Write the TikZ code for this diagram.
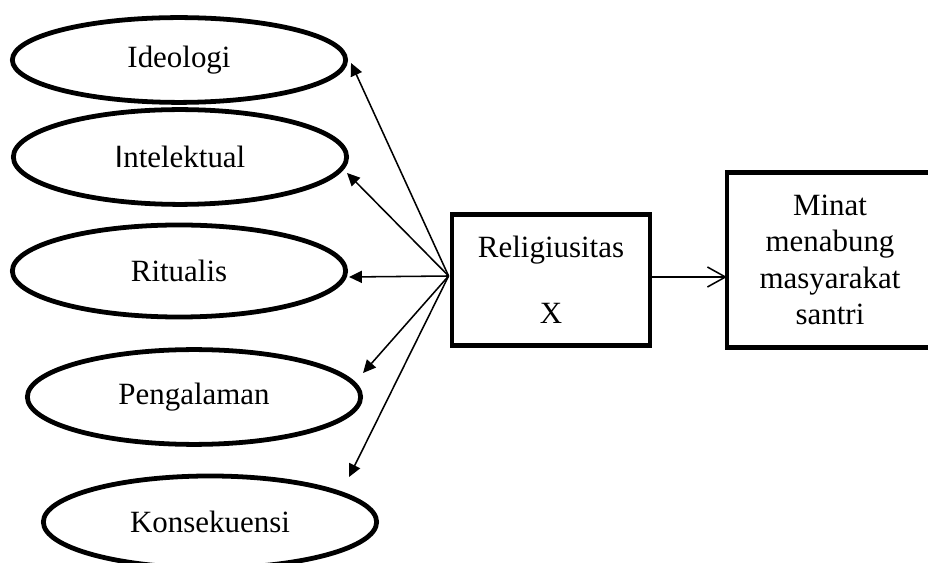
\documentclass[tikz,border=0pt]{standalone}
\usepackage{fontspec}
\setmainfont{Liberation Serif}
\newfontfamily\sansI{Liberation Sans}
\usetikzlibrary{shapes.geometric,arrows.meta,positioning}

\begin{document}
\begin{tikzpicture}[
    x=0.025cm, y=-0.025cm,
    oval/.style={draw, ellipse, line width=3.4pt, minimum width=8.33cm, inner sep=0pt, font=\fontsize{22}{26}\selectfont},
    box/.style={draw, rectangle, line width=3.4pt, inner sep=0pt, align=center, font=\fontsize{22}{26}\selectfont},
    arrow/.style={-{Triangle[length=0.32cm,width=0.3cm]}, line width=1.1pt},
    openarrow/.style={-{Straight Barb[length=0.45cm,width=0.5cm]}, line width=1.1pt},
]
    \useasboundingbox (0,0) rectangle (928,563);

    % Dimensions of religiosity
    \node[oval, minimum height=2.12cm] (ideo) at (179,60) {Ideologi};
    \node[oval, minimum height=2.37cm] (intel) at (180,157) {{\sansI I}ntelektual};
    \node[oval, minimum height=2.3cm] (ritual) at (179,271) {Ritualis};
    \node[oval, minimum height=2.37cm] (peng) at (194,397) {Pengalaman};
    \node[oval, minimum height=2.3cm] (kons) at (210,522) {Konsekuensi};

    % Variables
    \node[box, minimum width=4.95cm, minimum height=3.27cm] (relig) at (551,280) {Religiusitas\\[21pt]X};
    \node[box, draw=none, minimum width=5.03cm, minimum height=4.25cm] (minat) at (830,260) {Minat\\menabung\\masyarakat\\santri};
    % frame is cut by the page edge on the right
    \draw[line width=3.4pt] (minat.north east) -- (minat.north west) -- (minat.south west) -- (minat.south east);

    % Arrows
    \coordinate (src) at ([shift={(-1,-4)}]relig.west);
    \draw[arrow] (src) -- ([shift={(3,3)}]ideo.east);
    \draw[arrow] (src) -- ([shift={(-2,16)}]intel.east);
    \draw[arrow] (src) -- ([shift={(1,6)}]ritual.east);
    \draw[arrow] (src) -- ([shift={(0,-24)}]peng.east);
    \draw[arrow] (src) -- ([shift={(-30,-45)}]kons.east);
    \draw[openarrow] ([shift={(0,-3)}]relig.east) -- ([shift={(0,-3)}]relig.east -| minat.west);
\end{tikzpicture}
\end{document}
